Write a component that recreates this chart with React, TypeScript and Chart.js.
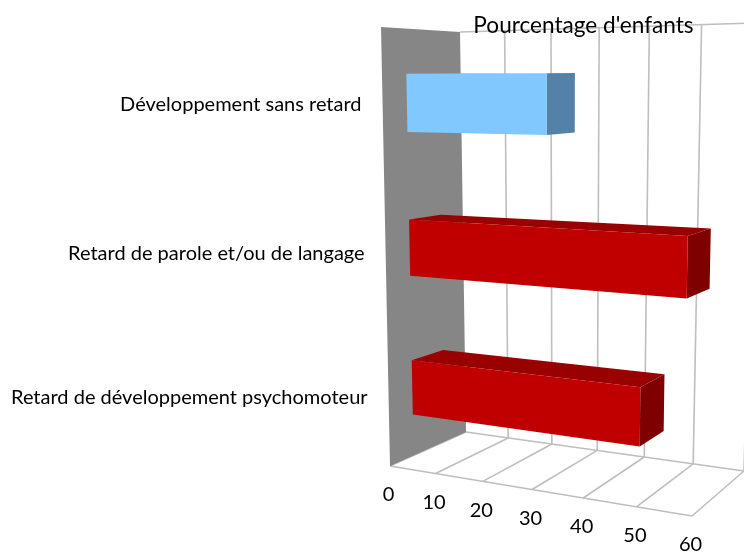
import React, { useEffect, useRef } from "react";
import { Chart, registerables } from "chart.js";

Chart.register(...registerables);

const categories = [
  "Développement sans retard",
  "Retard de parole et/ou de langage",
  "Retard de développement psychomoteur",
];
const percentages = [29, 55.5, 47.2];
const axisTitle = "Pourcentage d'enfants";

const faceColors = ["#80C8FF", "#C00000", "#C00000"];
const topColors = ["#6CA8D8", "#990000", "#990000"];
const sideColors = ["#5481A8", "#7F0000", "#7F0000"];
const WALL = "#868686";
const GRID = "#BEBEBE";
const FONT = "20px Lato";
const TITLE_FONT = "22.6px Lato";

type P = [number, number];
// Corners of the box as seen in perspective: top-left, top-right, bottom-right, bottom-left
const FRONT_QUAD: P[] = [[381, 27], [700, 21], [692, 516], [390, 466]];
const BACK_QUAD: P[] = [[460, 32], [756, 23], [744, 471], [466, 432]];
const BAR_DEPTH = [0.31, 0.72];

function homography(q: P[]) {
  const [[x0, y0], [x1, y1], [x2, y2], [x3, y3]] = q;
  const dx1 = x1 - x2, dx2 = x3 - x2, sx = x0 - x1 + x2 - x3;
  const dy1 = y1 - y2, dy2 = y3 - y2, sy = y0 - y1 + y2 - y3;
  const den = dx1 * dy2 - dx2 * dy1;
  const g = (sx * dy2 - dx2 * sy) / den;
  const h = (dx1 * sy - sx * dy1) / den;
  const a = x1 - x0 + g * x1, b = x3 - x0 + h * x3;
  const d = y1 - y0 + g * y1, e = y3 - y0 + h * y3;
  return (u: number, v: number): P => {
    const w = g * u + h * v + 1;
    return [(a * u + b * v + x0) / w, (d * u + e * v + y0) / w];
  };
}
const front = homography(FRONT_QUAD);
const back = homography(BACK_QUAD);
const project = (u: number, v: number, d: number): P => {
  const f = front(u, v), b = back(u, v);
  return [f[0] + (b[0] - f[0]) * d, f[1] + (b[1] - f[1]) * d];
};

const perspectivePlugin = {
  id: "perspective",
  afterDatasetsDraw(chart: any) {
    const { ctx, chartArea: area, scales } = chart;
    const xs = scales.x, ys = scales.y;
    const U = (px: number) => (px - area.left) / area.width;
    const V = (py: number) => (py - area.top) / area.height;
    const poly = (pts: P[], fill: string) => {
      ctx.beginPath();
      pts.forEach((p, i) => (i ? ctx.lineTo(p[0], p[1]) : ctx.moveTo(p[0], p[1])));
      ctx.closePath();
      ctx.fillStyle = fill;
      ctx.fill();
    };
    const line = (a: P, b: P) => {
      ctx.beginPath();
      ctx.moveTo(a[0], a[1]);
      ctx.lineTo(b[0], b[1]);
      ctx.stroke();
    };

    ctx.save();
    ctx.filter = "blur(0.5px)";
    ctx.strokeStyle = GRID;
    ctx.lineWidth = 1.6;

    // back wall top edge, floor outline and gridlines, from the value scale's ticks
    line(project(0, 0, 1), project(1, 0, 1));
    line(project(0, 1, 0), project(1, 1, 0));
    line(project(0, 1, 1), project(1, 1, 1));
    xs.ticks.forEach((t: any) => {
      const u = U(xs.getPixelForValue(t.value));
      line(project(u, 1, 0), project(u, 1, 1));
      if (t.value > 0) line(project(u, 0, 1), project(u, 1, 1));
    });

    // left wall
    poly([project(0, 0, 0), project(0, 0, 1), project(0, 1, 1), project(0, 1, 0)], WALL);

    // bars
    const bars = chart.getDatasetMeta(0).data;
    bars.forEach((bar: any, i: number) => {
      const u0 = U(bar.base), u1 = U(bar.x);
      const v0 = V(bar.y - bar.height / 2), v1 = V(bar.y + bar.height / 2);
      const [d0, d1] = BAR_DEPTH;
      poly([project(u0, v0, d0), project(u1, v0, d0), project(u1, v0, d1), project(u0, v0, d1)], topColors[i]);
      poly([project(u1, v0, d0), project(u1, v0, d1), project(u1, v1, d1), project(u1, v1, d0)], sideColors[i]);
      poly([project(u0, v0, d0), project(u1, v0, d0), project(u1, v1, d0), project(u0, v1, d0)], faceColors[i]);
    });

    // text
    ctx.filter = "blur(0.3px)";
    ctx.fillStyle = "#000000";
    ctx.font = FONT;
    ctx.textBaseline = "middle";
    ctx.textAlign = "center";
    xs.ticks.forEach((t: any) => {
      const p = project(U(xs.getPixelForValue(t.value)), 1, 0);
      ctx.fillText(String(t.value), p[0] - 1.5, p[1] + 29);
    });
    ctx.textAlign = "right";
    ys.getLabels().forEach((label: string, i: number) => {
      const p = project(0, V(ys.getPixelForTick(i)), 0);
      ctx.fillText(label, p[0] - 21, p[1] + 1.5);
    });
    ctx.textAlign = "center";
    ctx.font = TITLE_FONT;
    ctx.fillText(axisTitle, 583.5, 26);
    ctx.restore();
  },
};

export default function App() {
  const ref = useRef<HTMLCanvasElement>(null);
  useEffect(() => {
    const chart = new Chart(ref.current!, {
      type: "bar",
      data: {
        labels: categories,
        datasets: [
          {
            data: percentages,
            backgroundColor: "transparent",
            barPercentage: 1,
            categoryPercentage: 0.395,
          },
        ],
      },
      options: {
        indexAxis: "y",
        responsive: false,
        animation: false,
        layout: { padding: 0 },
        plugins: { legend: { display: false }, tooltip: { enabled: false }, title: { display: false } },
        scales: {
          x: { display: false, min: 0, max: 60, ticks: { stepSize: 10 } },
          y: { display: false },
        },
      },
      plugins: [perspectivePlugin],
    } as any);
    return () => chart.destroy();
  }, []);
  return (
    <div style={{ position: "absolute", left: 0, top: 0, width: 744, height: 552, background: "#fff" }}>
      <canvas ref={ref} width={744} height={552} style={{ display: "block" }} />
    </div>
  );
}
